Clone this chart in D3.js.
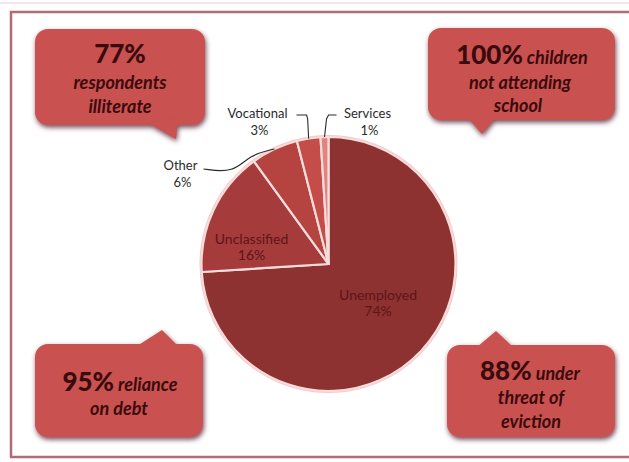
<!DOCTYPE html>
<html><head><meta charset="utf-8">
<script src="https://cdn.jsdelivr.net/npm/d3@7"></script>
<style>html,body{margin:0;padding:0;background:#fff;}svg{display:block;}</style>
</head><body>
<script>
const categories = ["Unemployed", "Unclassified", "Other", "Vocational", "Services"];
const values = [74, 16, 6, 3, 1];
const sliceColors = ["#8e3131", "#a53b3b", "#b5433f", "#c54d49", "#e2837f"];
const calloutBig = ["77%", "100%", "95%", "88%"];
const calloutInline = ["", "children", "reliance", "under"];
const calloutLines = [
  ["respondents", "illiterate"],
  ["not attending", "school"],
  ["on debt"],
  ["threat of", "eviction"]
];

const W = 629, H = 462;
const svg = d3.select("body").append("svg").attr("width", W).attr("height", H);
const defs = svg.append("defs");
const f = defs.append("filter").attr("id", "sh").attr("x", "-20%").attr("y", "-20%").attr("width", "140%").attr("height", "150%");
f.append("feDropShadow").attr("dx", 1).attr("dy", 2.5).attr("stdDeviation", 2.4).attr("flood-color", "#5b2a3c").attr("flood-opacity", 0.85);

// frame
svg.append("rect").attr("x", 11).attr("y", 12).attr("width", 650).attr("height", 445)
  .attr("fill", "none").attr("stroke", "#b36a77").attr("stroke-width", 2.5);
svg.append("line").attr("x1", 0).attr("x2", W).attr("y1", 3).attr("y2", 3).attr("stroke", "#f3dde0").attr("stroke-width", 1.5);

// pie
const cx = 328.5, cy = 264, r = 127;
const pie = d3.pie().sort(null).startAngle(0).endAngle(2 * Math.PI).value(d => d.v);
const data = categories.map((c, i) => ({c, v: values[i], col: sliceColors[i]}));
const arcs = pie(data);
const arc = d3.arc().innerRadius(0).outerRadius(r);
const g = svg.append("g").attr("transform", `translate(${cx},${cy})`);
g.append("circle").attr("r", r + 1).attr("fill", "none").attr("stroke", "#f4c9c9").attr("stroke-width", 2);
g.selectAll("path.s").data(arcs).join("path").attr("class", "s")
  .attr("d", arc).attr("fill", d => d.data.col)
  .attr("stroke", "#f7dcdc").attr("stroke-width", 2.2).attr("stroke-linejoin", "round");

const fam = "Lato, 'Open Sans', sans-serif";
// inside labels
const inArc = d3.arc().innerRadius(r * 0.6).outerRadius(r * 0.6);
const inside = {Unemployed: [-6, -16], Unclassified: [-8, 12]};
arcs.filter(d => inside[d.data.c]).forEach(d => {
  const [x, y] = inArc.centroid(d);
  const [dx, dy] = inside[d.data.c];
  const t = g.append("text").attr("text-anchor", "middle").attr("fill", "#5c1616")
    .style("font-family", fam).style("font-size", "14px");
  t.append("tspan").attr("x", x + dx).attr("y", y + dy).text(d.data.c);
  t.append("tspan").attr("x", x + dx).attr("y", y + dy + 16).text(d.data.v + "%");
});

// outside labels with leader lines
const outside = {
  Other: {elbow: null, end: [-125, -95], text: [-148, -94]},
  Vocational: {elbow: [0, -149], end: [-32, -149], text: [-71, -146]},
  Services: {elbow: [0, -149], end: [8, -149], text: [39, -146]}
};
arcs.filter(d => outside[d.data.c]).forEach(d => {
  const a = (d.startAngle + d.endAngle) / 2;
  const p0 = [Math.sin(a) * r, -Math.cos(a) * r];
  const o = outside[d.data.c];
  let pathD;
  if (o.elbow) {
    pathD = d3.line()([p0, [p0[0] + (d.data.c === "Services" ? 2 : -1), o.elbow[1] + 4], [p0[0] + (d.data.c === "Services" ? 4 : -2), o.elbow[1]], o.end]);
  } else {
    pathD = d3.line().curve(d3.curveBasis)([p0, [p0[0] - 25, p0[1] + 6], [o.end[0] + 30, o.end[1] + 4], o.end]);
  }
  g.append("path").attr("d", pathD).attr("fill", "none").attr("stroke", "#2a2a2a").attr("stroke-width", 1.1);
  const t = g.append("text").attr("text-anchor", "middle").attr("fill", "#2b2b2b")
    .style("font-family", fam).style("font-size", "13px");
  t.append("tspan").attr("x", o.text[0]).attr("y", o.text[1]).text(d.data.c);
  t.append("tspan").attr("x", o.text[0] + 2).attr("y", o.text[1] + 17).text(d.data.v + "%");
});

// callouts
const boxes = [
  {x: 35, y: 29, w: 170, h: 96, tail: [[148, 123], [176, 139], [178, 118]]},
  {x: 428, y: 28, w: 187, h: 92, tail: [[468, 118], [482, 134], [495, 118]]},
  {x: 35, y: 344, w: 168, h: 93, tail: [[137, 346], [162, 330], [178, 346]]},
  {x: 447, y: 345, w: 168, h: 92, tail: [[477, 347], [496, 331], [513, 347]]}
];
boxes.forEach((b, i) => {
  const bg = svg.append("g").attr("filter", "url(#sh)");
  bg.append("rect").attr("x", b.x).attr("y", b.y).attr("width", b.w).attr("height", b.h).attr("rx", 13)
    .attr("fill", "#c9514f");
  bg.append("path").attr("d", d3.line()(b.tail) + "Z").attr("fill", "#c9514f");
});
const textColor = "#3a0b0d";
function txt(x, y, parts) {
  const t = svg.append("text").attr("x", x).attr("y", y).attr("text-anchor", "middle").attr("fill", textColor)
    .style("font-family", fam);
  parts.forEach(p => t.append("tspan").text(p.s).style("font-size", p.size + "px")
    .style("font-weight", p.it ? "bold" : "900").style("font-style", p.it ? "italic" : "normal"));
  return t;
}
// TL
txt(120, 63, [{s: calloutBig[0], size: 26}]);
txt(120, 89, [{s: calloutLines[0][0], size: 18, it: true}]);
txt(120, 113, [{s: calloutLines[0][1], size: 18, it: true}]);
// TR
txt(522, 64, [{s: calloutBig[1], size: 26}, {s: " " + calloutInline[1], size: 18, it: true}]);
txt(520, 89, [{s: calloutLines[1][0], size: 18, it: true}]);
txt(518, 112, [{s: calloutLines[1][1], size: 18, it: true}]);
// BL
txt(120, 391, [{s: calloutBig[2], size: 26}, {s: " " + calloutInline[2], size: 18, it: true}]);
txt(119, 415, [{s: calloutLines[2][0], size: 18, it: true}]);
// BR
txt(530, 380, [{s: calloutBig[3], size: 26}, {s: " " + calloutInline[3], size: 18, it: true}]);
txt(531, 404, [{s: calloutLines[3][0], size: 18, it: true}]);
txt(531, 428, [{s: calloutLines[3][1], size: 18, it: true}]);
</script>
</body></html>
